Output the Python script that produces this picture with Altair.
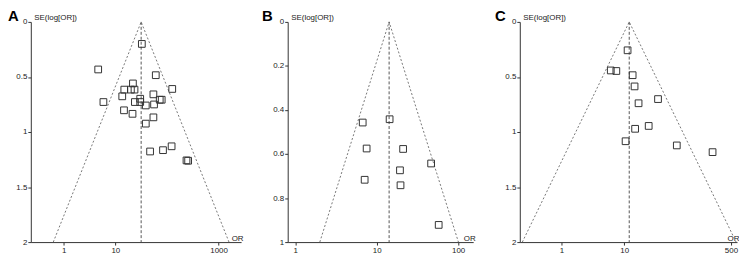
import math
import altair as alt
import pandas as pd

FONT = "Liberation Sans"

# ---------------- Panel A ----------------
a_or = [32.6, 4.65, 60.7, 126.5, 21.9, 14.9, 20.0, 23.5, 13.6, 54.6, 5.87, 23.9,
        30.3, 30.3, 38.9, 56.2, 72.4, 79.1, 14.7, 21.5, 54.6, 38.9, 47.1, 83.8,
        123.0, 239.0, 257.0]
a_se = [0.200, 0.432, 0.484, 0.609, 0.559, 0.615, 0.615, 0.615, 0.676, 0.658,
        0.728, 0.728, 0.698, 0.728, 0.759, 0.750, 0.707, 0.707, 0.803, 0.835,
        0.867, 0.924, 1.177, 1.165, 1.130, 1.258, 1.261]
a_pooled = 31.6
a_se_max = 2
a_x_ticks = [1, 10, 1000]
a_y_ticks = [0, 0.5, 1, 1.5, 2]

# ---------------- Panel B ----------------
b_or = [6.73, 14.4, 7.52, 21.1, 46.6, 19.3, 7.11, 19.6, 57.7]
b_se = [0.457, 0.442, 0.575, 0.577, 0.643, 0.674, 0.717, 0.742, 0.922]
b_pooled = 14.2
b_se_max = 1
b_x_ticks = [1, 10, 100]
b_y_ticks = [0, 0.2, 0.4, 0.6, 0.8, 1]

# ---------------- Panel C ----------------
c_or = [11.3, 6.10, 7.48, 13.6, 14.6, 16.9, 34.5, 14.9, 24.5, 10.5, 68.7, 255.0]
c_se = [0.258, 0.441, 0.446, 0.484, 0.586, 0.739, 0.701, 0.971, 0.945, 1.084,
        1.122, 1.183]
c_pooled = 12.0
c_se_max = 2
c_x_ticks = [1, 10, 500]
c_y_ticks = [0, 0.5, 1, 1.5, 2]

HEIGHT = 222


def panel(letter, or_vals, se_vals, pooled, se_max, x_domain, x_ticks, y_ticks,
          width, letter_dx):
    pts = pd.DataFrame({"OR": or_vals, "SE": se_vals})
    lo = pooled * math.exp(-1.96 * se_max)
    hi = pooled * math.exp(1.96 * se_max)
    funnel = pd.DataFrame({"OR": [lo, pooled, hi], "SE": [se_max, 0.0, se_max],
                           "k": [0, 1, 2]})
    center = pd.DataFrame({"OR": [pooled, pooled], "SE": [0.0, se_max],
                           "k": [0, 1]})

    xs = alt.Scale(type="log", domain=x_domain, nice=False)
    ys = alt.Scale(domain=[0, se_max], reverse=True, nice=False, zero=False)
    xax = alt.Axis(values=x_ticks, format="~g", title="OR", titleAngle=0,
                   titleX=width + 2, titleY=-2, titleAlign="right",
                   titleBaseline="alphabetic", labelFlush=False)
    yax = alt.Axis(values=y_ticks, format="~g", title="SE(log[OR])",
                   titleAngle=0, titleX=3, titleY=-2, titleAlign="left",
                   titleBaseline="alphabetic")

    x_enc = alt.X("OR:Q", scale=xs, axis=xax)
    y_enc = alt.Y("SE:Q", scale=ys, axis=yax)

    f = alt.Chart(funnel).mark_line(color="#777", strokeWidth=1,
                                    strokeDash=[2, 2]).encode(
        x=x_enc, y=y_enc, order="k:Q")
    c = alt.Chart(center).mark_line(color="#555", strokeWidth=1,
                                    strokeDash=[3, 2]).encode(
        x=alt.X("OR:Q", scale=xs), y=alt.Y("SE:Q", scale=ys), order="k:Q")
    p = alt.Chart(pts).mark_point(shape="square", filled=False, size=46,
                                  strokeWidth=1, color="#333",
                                  opacity=1).encode(
        x=alt.X("OR:Q", scale=xs), y=alt.Y("SE:Q", scale=ys))

    return alt.layer(f, c, p).properties(
        width=width, height=HEIGHT,
        title=alt.TitleParams(letter, anchor="start", frame="group",
                              dx=letter_dx, dy=23, offset=1, fontSize=15,
                              fontWeight="bold", font=FONT,
                              baseline="alphabetic", color="black"))


pa = panel("A", a_or, a_se, a_pooled, a_se_max, [0.23, 2730], a_x_ticks,
           a_y_ticks, 212, -23)
pb = panel("B", b_or, b_se, b_pooled, b_se_max, [0.807, 153], b_x_ticks,
           b_y_ticks, 187, -26)
pc = panel("C", c_or, c_se, c_pooled, c_se_max, [0.217, 625], c_x_ticks,
           c_y_ticks, 219, -25)

chart = alt.hconcat(pa, pb, pc, spacing=47, bounds="flush").properties(
    padding=0
).configure_view(stroke=None).configure_axis(
    grid=False, domainColor="#333", tickColor="#333", labelColor="#222",
    titleColor="#222", labelFont=FONT, titleFont=FONT, labelFontSize=8,
    titleFontSize=8, titleFontWeight="normal", tickSize=3, labelPadding=1,
    domainWidth=1, tickWidth=1
)

chart.save("out.html", embed_options={"renderer": "svg", "actions": False})
